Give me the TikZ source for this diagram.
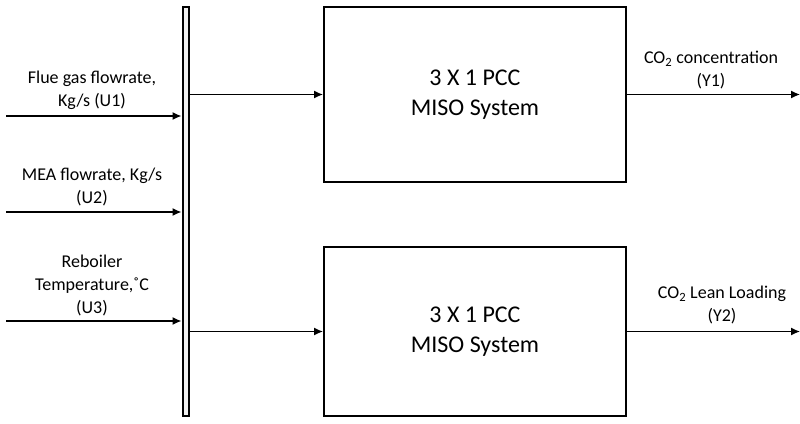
\documentclass[tikz,border=0pt]{standalone}
\usepackage{fontspec}
\setmainfont{Carlito}
\usetikzlibrary{arrows.meta}
\begin{document}
\begin{tikzpicture}[x=1pt,y=-1pt,
  arr/.style={line width=1.3pt,-{Latex[length=9pt,width=8pt]}},
  sysbox/.style={draw,line width=2pt,rectangle,minimum width=302pt,inner sep=0pt,align=center,font=\fontsize{24}{29.5}\selectfont},
  busbar/.style={draw,line width=2pt,fill=gray!12,rectangle,inner sep=0pt,minimum width=6pt,minimum height=409pt},
  lbl/.style={align=center,inner sep=0pt,font=\fontsize{18}{23}\selectfont}]
\useasboundingbox (0,0) rectangle (800,423);
% bus
\node[busbar] (bus) at (185.5,211.5) {};
\node[sysbox,minimum height=175pt] (b1) at (475,94.5) {3 X 1 PCC\\MISO System};
\node[sysbox,minimum height=169pt] (b2) at (475,331.5) {3 X 1 PCC\\MISO System};
% inputs
\coordinate (u1) at (6,116);
\coordinate (u2) at (6,212);
\coordinate (u3) at (6,321);
\draw[arr] (u1) -- (u1 -| bus.west);
\draw[arr] (u2) -- (u2 -| bus.west);
\draw[arr] (u3) -- (u3 -| bus.west);
\node[lbl] (t1) at (92,90) {Flue gas flowrate,\\Kg/s (U1)};
\node[lbl] (t2) at (92,187) {MEA flowrate, Kg/s\\(U2)};
\node[lbl] (t3) at (92,285) {Reboiler\\Temperature,˚C\\(U3)};
% bus to systems
\draw[arr] (bus.east |- b1.west) -- (b1.west);
\draw[arr] (bus.east |- b2.west) -- (b2.west);
% outputs
\coordinate (y1) at (800,94.5);
\coordinate (y2) at (800,331.5);
\draw[arr] (b1.east) -- (y1);
\draw[arr] (b2.east) -- (y2);
\node[lbl] (o1) at (711,70) {CO\textsubscript{2} concentration\\(Y1)};
\node[lbl] (o2) at (722,305) {CO\textsubscript{2} Lean Loading\\(Y2)};
\end{tikzpicture}
\end{document}
